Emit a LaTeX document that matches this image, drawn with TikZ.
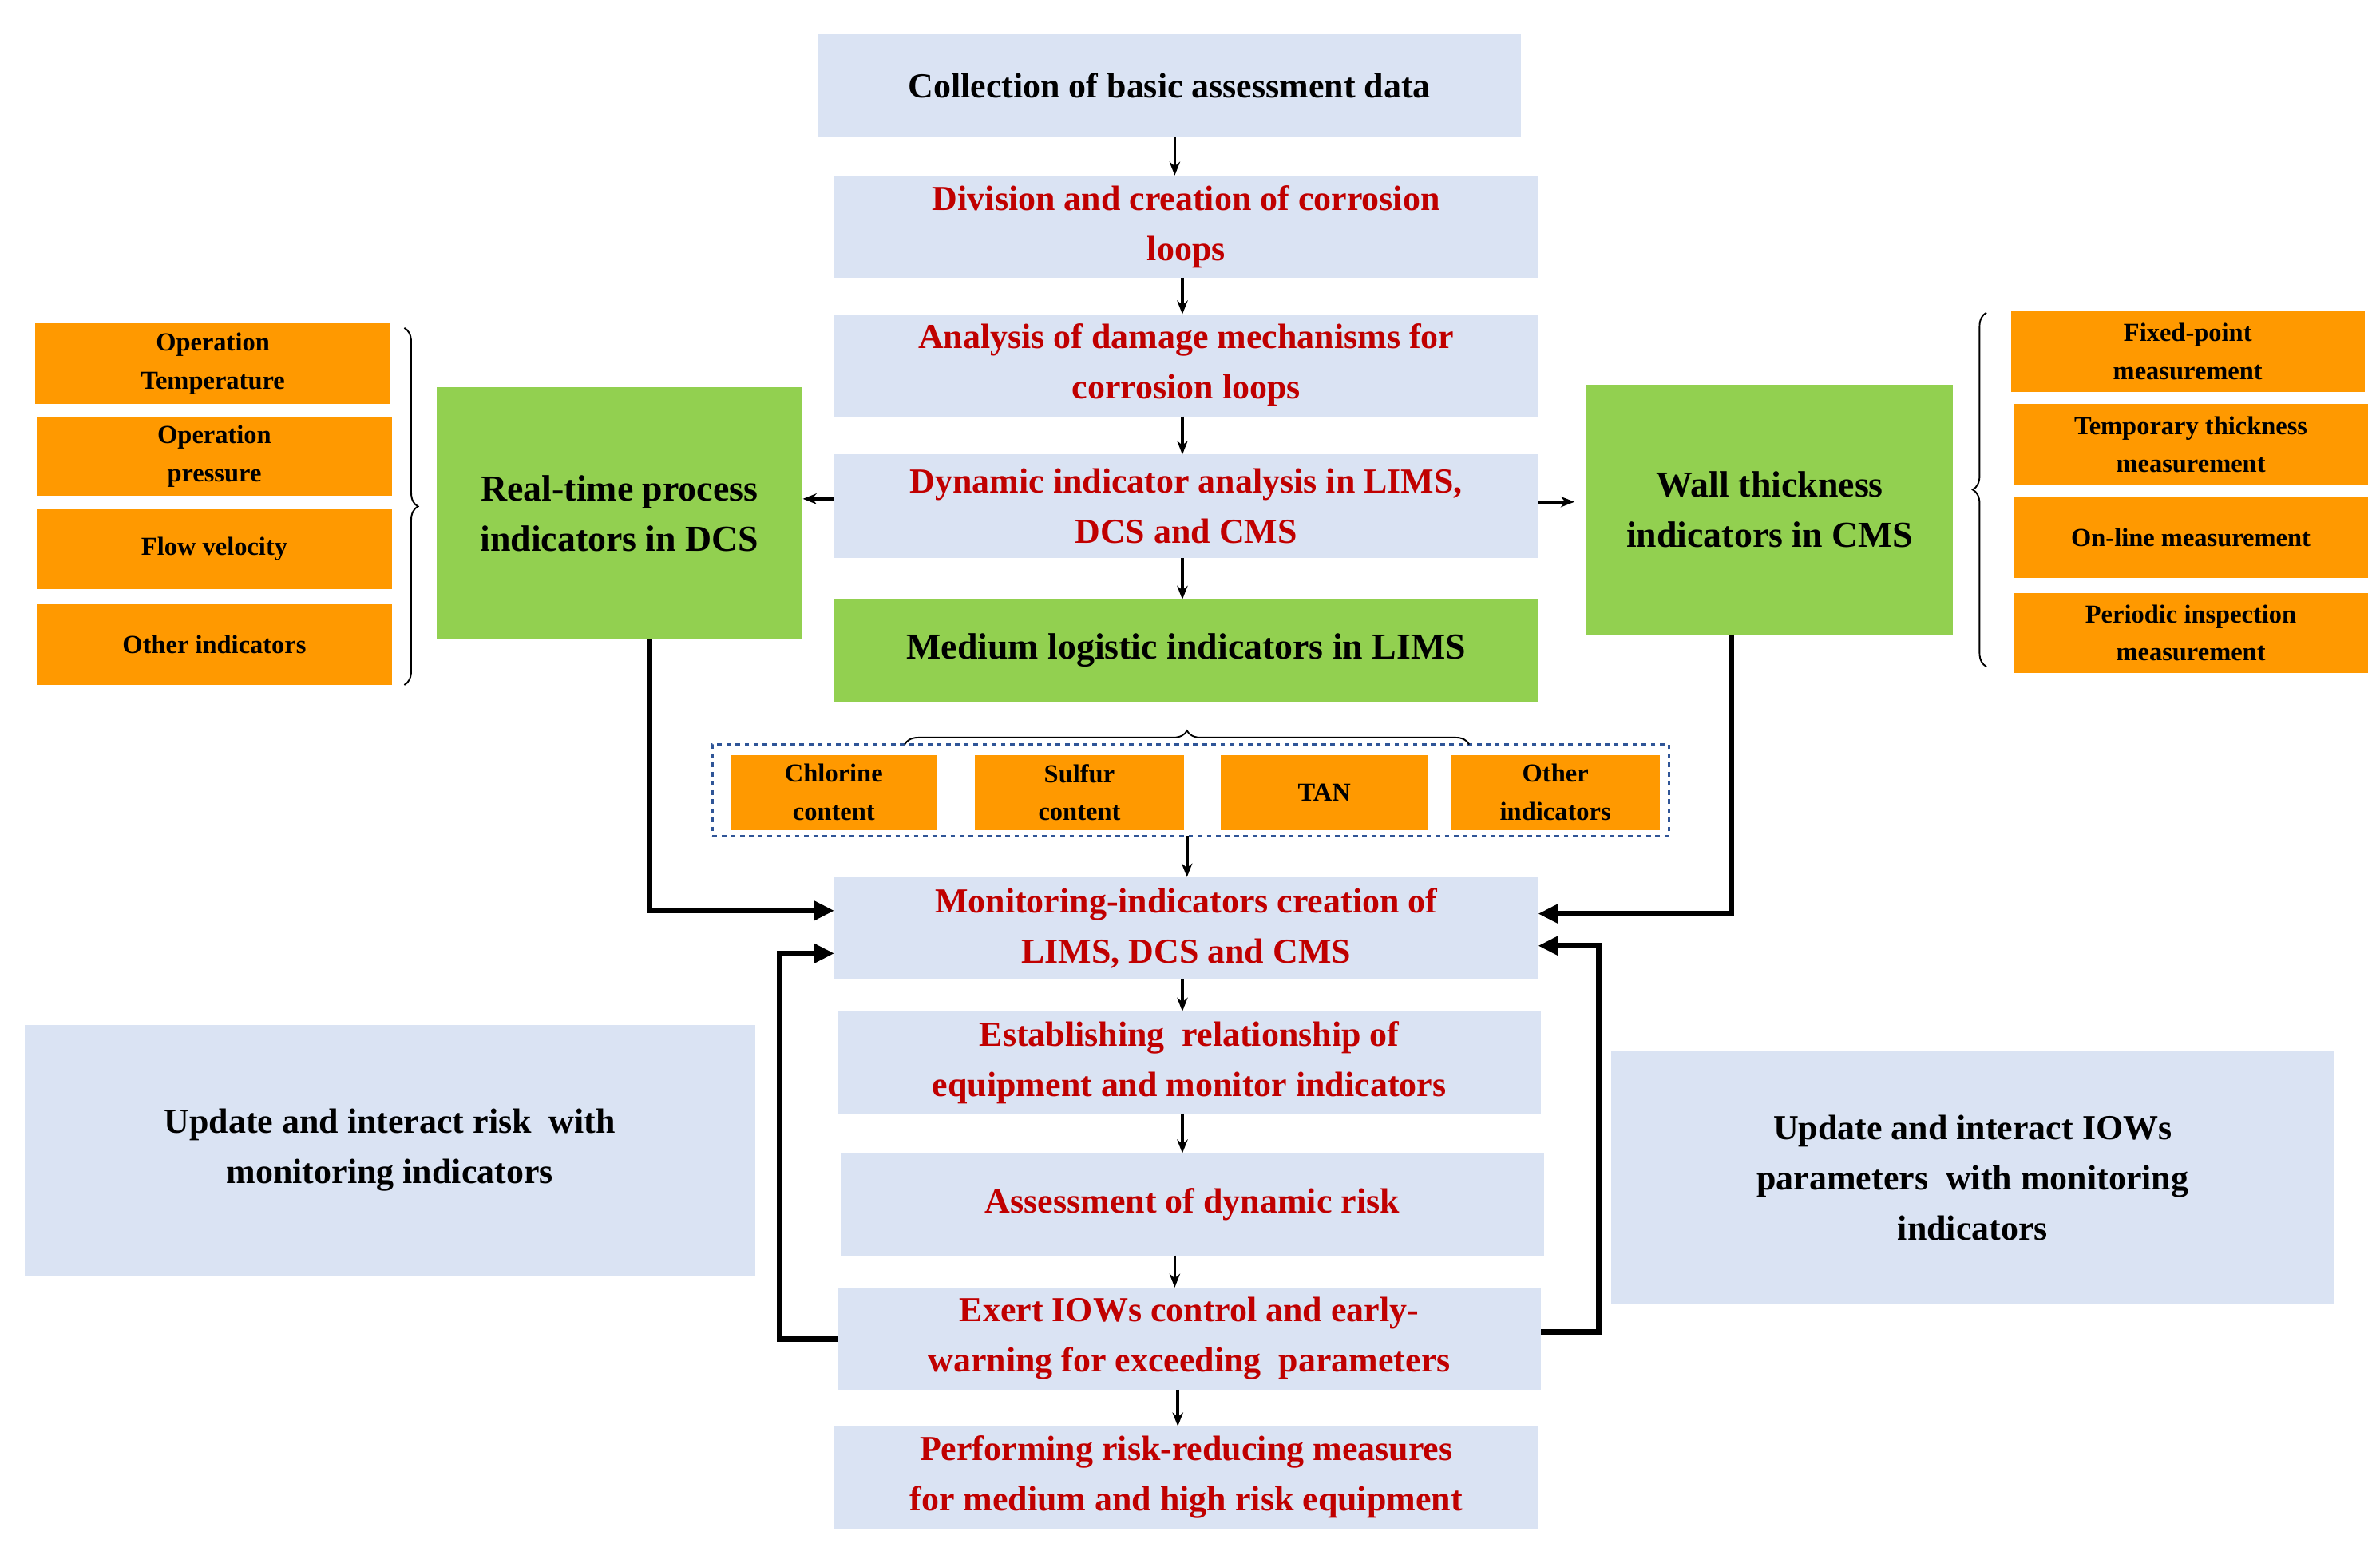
\documentclass[tikz,border=0pt]{standalone}
\usepackage{fontspec}
\setmainfont{Liberation Serif}
\usetikzlibrary{arrows.meta,decorations.pathreplacing}
\definecolor{lb}{HTML}{DAE3F3}
\definecolor{gr}{HTML}{92D050}
\definecolor{orn}{HTML}{FF9900}
\definecolor{rd}{HTML}{C00000}
\definecolor{db}{HTML}{2F5597}
\begin{document}
\begin{tikzpicture}[x=1pt,y=-1pt,
 bx/.style={fill=lb,inner sep=0,align=center,font=\fontsize{23}{33}\selectfont\bfseries},
 rbx/.style={bx,text=rd},
 gbx/.style={fill=gr,inner sep=0,align=center,font=\fontsize{24}{33}\selectfont\bfseries},
 ob/.style={fill=orn,inner sep=0,align=center,font=\fontsize{17}{25}\selectfont\bfseries},
 ar/.style={-{Stealth[length=9pt,width=7pt]},line width=2pt},
 tk/.style={-{Triangle[length=13pt,width=12pt]},line width=3.5pt},
 br/.style={decorate,decoration={brace,amplitude=9pt},line width=1pt}]
\useasboundingbox (0,0) rectangle (1560,1019);
\newcommand{\bxx}[7]{\node[#1,minimum width=#4-#3,minimum height=#6-#5] (#2) at ({(#3+#4)/2},{(#5+#6)/2}) {#7};}
\bxx{bx}{top}{536}{997}{22}{90}{Collection of basic assessment data}
\bxx{rbx}{div}{547}{1008}{115}{182}{Division and creation of corrosion\\loops}
\bxx{rbx}{ana}{547}{1008}{206}{273}{Analysis of damage mechanisms for\\corrosion loops}
\bxx{rbx}{dyn}{547}{1008}{298}{366}{Dynamic indicator analysis in LIMS,\\DCS and CMS}
\bxx{gbx}{med}{547}{1008}{393}{460}{Medium logistic indicators in LIMS}
\bxx{gbx}{rt}{286}{526}{254}{419}{Real-time process\\indicators in DCS}
\bxx{gbx}{wt}{1040}{1280}{252}{416}{Wall thickness\\indicators in CMS}
\bxx{ob}{l1}{23}{256}{212}{265}{Operation\\Temperature}
\bxx{ob}{l2}{24}{257}{273}{325}{Operation\\pressure}
\bxx{ob}{l3}{24}{257}{334}{386}{Flow velocity}
\bxx{ob}{l4}{24}{257}{396}{449}{Other indicators}
\bxx{ob}{r1}{1318}{1550}{204}{257}{Fixed-point\\measurement}
\bxx{ob}{r2}{1320}{1552}{265}{318}{Temporary thickness\\measurement}
\bxx{ob}{r3}{1320}{1552}{326}{379}{On-line measurement}
\bxx{ob}{r4}{1320}{1552}{389}{441}{Periodic inspection\\measurement}
\node[draw=db,dashed,line width=1.5pt,minimum width=627,minimum height=60,inner sep=0] (dash) at (780.5,518) {};
\bxx{ob}{m1}{479}{614}{495}{544}{Chlorine\\content}
\bxx{ob}{m2}{639}{776}{495}{544}{Sulfur\\content}
\bxx{ob}{m3}{800}{936}{495}{544}{TAN}
\bxx{ob}{m4}{951}{1088}{495}{544}{Other\\indicators}
\bxx{rbx}{mon}{547}{1008}{575}{642}{Monitoring-indicators creation of\\LIMS, DCS and CMS}
\bxx{rbx}{est}{549}{1010}{663}{730}{Establishing\ \ relationship of\\equipment and monitor indicators}
\bxx{rbx}{ass}{551}{1012}{756}{823}{Assessment of dynamic risk}
\bxx{rbx}{exe}{549}{1010}{844}{911}{Exert IOWs control and early-\\warning for exceeding\ \ parameters}
\bxx{rbx}{per}{547}{1008}{935}{1002}{Performing risk-reducing measures\\for medium and high risk equipment}
\bxx{bx}{lbig}{16}{495}{672}{836}{Update and interact risk\ \ with\\monitoring indicators}
\bxx{bx}{rbig}{1056}{1530}{689}{855}{Update and interact IOWs\\parameters\ \ with monitoring\\indicators}
% braces
\draw[br] (265,215) -- (265,449);
\draw[br] (1302,437) -- (1302,205);
\draw[br] (593,488) -- (963,488);
% thin arrows
\draw[ar] (770,90) -- (770,115);
\draw[ar] (775,182) -- (775,206);
\draw[ar] (775,273) -- (775,298);
\draw[ar] (775,366) -- (775,393);
\draw[ar] (dyn.west|-0,327) -- (rt.east|-0,327);
\draw[ar] (dyn.east|-0,329) -- (1032,329);
\draw[ar] (778,548) -- (778,575);
\draw[ar] (775,642) -- (775,663);
\draw[ar] (775,730) -- (775,756);
\draw[ar] (770,823) -- (770,844);
\draw[ar] (772,911) -- (772,935);
% thick connectors
\draw[tk] (426,419) -- (426,597) -- (mon.west|-0,597);
\draw[tk] (1135,416) -- (1135,599) -- (mon.east|-0,599);
\draw[tk] (exe.west|-0,878) -- (511,878) -- (511,625) -- (mon.west|-0,625);
\draw[tk] (exe.east|-0,873) -- (1048,873) -- (1048,620) -- (mon.east|-0,620);
\end{tikzpicture}
\end{document}
